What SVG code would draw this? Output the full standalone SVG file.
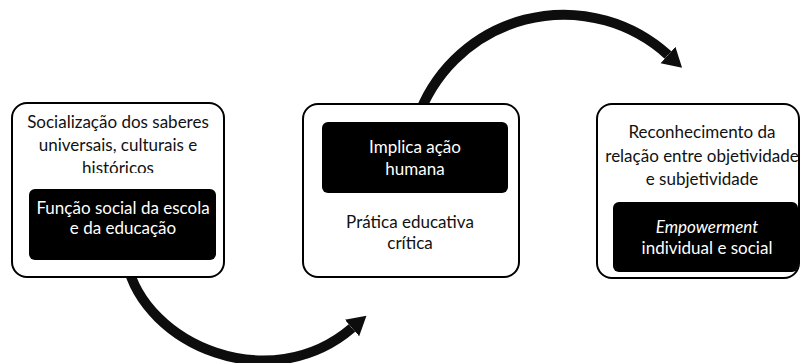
<svg xmlns="http://www.w3.org/2000/svg" width="801" height="363" viewBox="0 0 801 363">
<style>
.box{fill:#fff;stroke:#000;stroke-width:2}
.inner{fill:#000}
.t{font-family:Lato,"Liberation Sans",sans-serif;font-size:17px;text-anchor:middle;fill:#111}
.w{fill:#fff}
.arc{fill:none;stroke:#0d0d0d;stroke-width:10}
</style>
<defs>
<marker id="ah" markerUnits="userSpaceOnUse" markerWidth="24" markerHeight="26" refX="0" refY="12" orient="auto" viewBox="0 0 24 24">
<path d="M0,1 L19,12 L0,23 Z" fill="#0d0d0d"/>
</marker>
<clipPath id="clip1"><rect x="0" y="0" width="801" height="173"/></clipPath>
</defs>
<rect width="801" height="363" fill="#fff"/>
<g id="connectors">
<path class="arc" d="M127,263 C145,345 270,398 352,328" marker-end="url(#ah)"/>
<path class="arc" d="M417,120 A155,155 0 0 1 668,55" marker-end="url(#ah)"/>
</g>
<g id="node1">
<rect class="box" x="12" y="103" width="212" height="174" rx="15"/>
<text class="t" x="118" y="128">Socialização dos saberes</text>
<text class="t" x="118" y="151">universais, culturais e</text>
<text class="t" x="118" y="174" clip-path="url(#clip1)">históricos</text>
<rect class="inner" x="29" y="189" width="187" height="71" rx="6"/>
<text class="t w" x="123" y="214">Função social da escola</text>
<text class="t w" x="123" y="234">e da educação</text>
</g>
<g id="node2">
<rect class="box" x="303" y="104" width="216" height="173" rx="15"/>
<rect class="inner" x="322" y="122" width="186" height="71" rx="6"/>
<text class="t w" x="415" y="153">Implica ação</text>
<text class="t w" x="415" y="175">humana</text>
<text class="t" x="410" y="228">Prática educativa</text>
<text class="t" x="410" y="249">crítica</text>
</g>
<g id="node3">
<rect class="box" x="597" y="104" width="202" height="174" rx="15"/>
<text class="t" x="702" y="138">Reconhecimento da</text>
<text class="t" x="702" y="162">relação entre objetividade</text>
<text class="t" x="702" y="185">e subjetividade</text>
<rect class="inner" x="613" y="202" width="185" height="70" rx="6"/>
<text class="t w" x="707" y="233" font-style="italic">Empowerment</text>
<text class="t w" x="707" y="254">individual e social</text>
</g>
</svg>
